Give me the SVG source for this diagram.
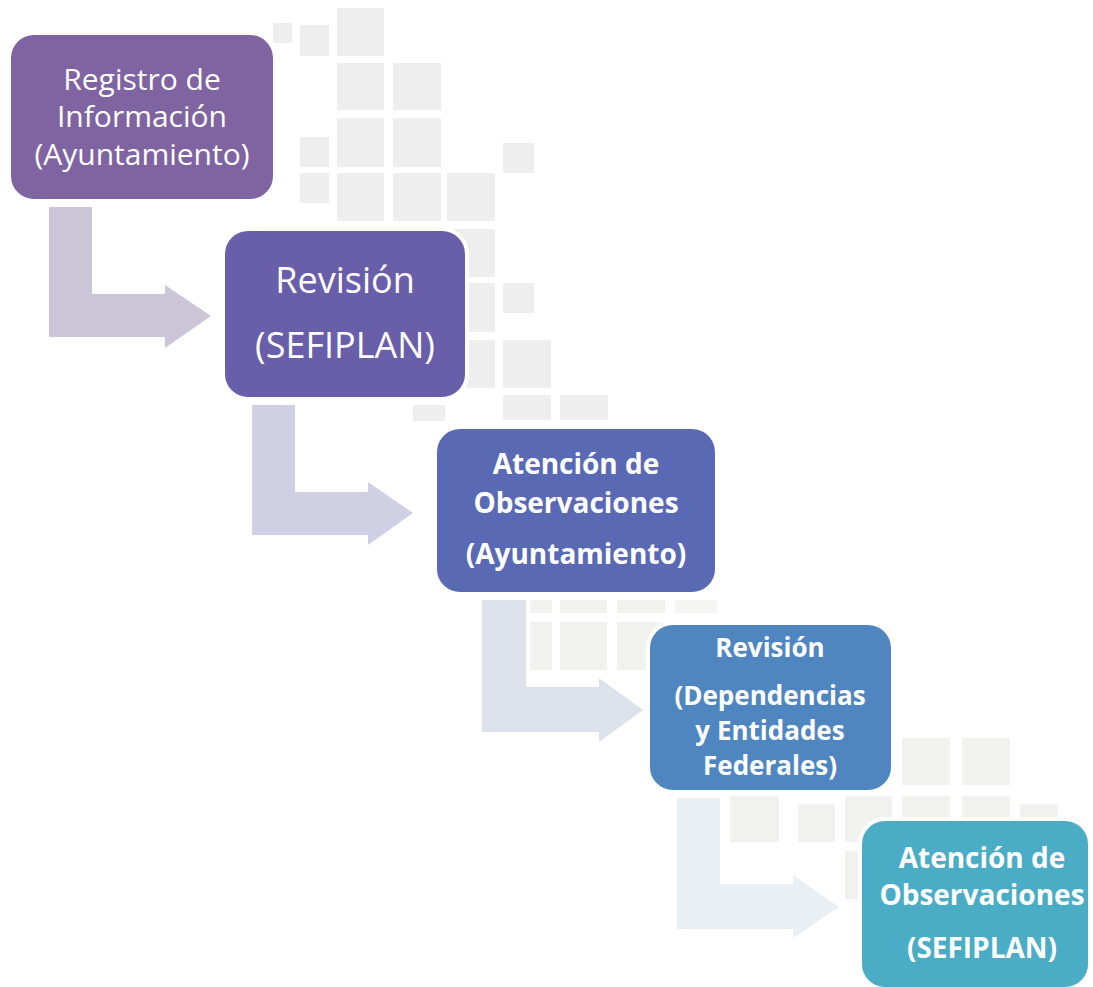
<svg xmlns="http://www.w3.org/2000/svg" width="1093" height="987" viewBox="0 0 1093 987">
<style>
.sq{fill:#eeeeee}
.sq2{fill:#f1f1ed}
.box{stroke:#ffffff;stroke-width:4}
.t{font-family:"Open Sans","Liberation Sans",sans-serif;fill:#ffffff;text-anchor:middle}
.b{font-weight:bold}
</style>
<rect width="1093" height="987" fill="#ffffff"/>
<g id="background">
<rect class="sq" x="273" y="23" width="19" height="20"/>
<rect class="sq" x="300" y="25" width="29" height="31"/>
<rect class="sq" x="337" y="8" width="47" height="48"/>
<rect class="sq" x="337" y="63" width="47" height="47"/>
<rect class="sq" x="393" y="63" width="48" height="47"/>
<rect class="sq" x="300" y="137" width="29" height="30"/>
<rect class="sq" x="337" y="118" width="47" height="49"/>
<rect class="sq" x="393" y="118" width="48" height="49"/>
<rect class="sq" x="503" y="143" width="31" height="30"/>
<rect class="sq" x="300" y="173" width="29" height="30"/>
<rect class="sq" x="337" y="173" width="47" height="48"/>
<rect class="sq" x="393" y="173" width="48" height="48"/>
<rect class="sq" x="447" y="173" width="48" height="48"/>
<rect class="sq" x="447" y="229" width="48" height="48"/>
<rect class="sq" x="447" y="283" width="48" height="49"/>
<rect class="sq" x="503" y="283" width="31" height="30"/>
<rect class="sq" x="447" y="340" width="48" height="48"/>
<rect class="sq" x="503" y="340" width="48" height="48"/>
<rect class="sq" x="413" y="405" width="32" height="16"/>
<rect class="sq" x="503" y="395" width="48" height="25"/>
<rect class="sq" x="560" y="395" width="48" height="25"/>
<rect class="sq2" x="530" y="600" width="22" height="13"/>
<rect class="sq2" x="560" y="600" width="47" height="13"/>
<rect class="sq2" x="617" y="600" width="48" height="13"/>
<rect class="sq2" x="675" y="600" width="42" height="13" opacity="0.7"/>
<rect class="sq2" x="530" y="622" width="22" height="48"/>
<rect class="sq2" x="560" y="622" width="47" height="48"/>
<rect class="sq2" x="617" y="622" width="48" height="48"/>
<rect class="sq2" x="902" y="738" width="48" height="47"/>
<rect class="sq2" x="962" y="738" width="48" height="47"/>
<rect class="sq2" x="730" y="796" width="49" height="46"/>
<rect class="sq2" x="798" y="804" width="37" height="38"/>
<rect class="sq2" x="845" y="796" width="47" height="46"/>
<rect class="sq2" x="902" y="796" width="48" height="46"/>
<rect class="sq2" x="962" y="796" width="48" height="46"/>
<rect class="sq2" x="1020" y="804" width="38" height="38"/>
<rect class="sq2" x="845" y="851" width="47" height="48"/>
</g>
<g id="connectors">
<path d="M49,207 L92,207 L92,294 L165,294 L165,285 L211,316 L165,348 L165,337 L49,337 Z" fill="#cbc5d8"/>
<path d="M252,405 L295,405 L295,492 L368,492 L368,482 L413,513 L368,545 L368,535 L252,535 Z" fill="#d0cfe4"/>
<path d="M482,600 L526,600 L526,687 L599,687 L599,678 L643,710 L599,742 L599,732 L482,732 Z" fill="#dce1ec"/>
<path d="M677,798 L720,798 L720,884 L793,884 L793,875 L839,907 L793,938 L793,929 L677,929 Z" fill="#e9eff3"/>
</g>
<g id="node1">
<rect class="box" x="9" y="33" width="266" height="168" rx="25" fill="#8064a2"/>
<text class="t" font-size="30" x="142" y="90">Registro de</text>
<text class="t" font-size="30" x="142" y="127">Información</text>
<text class="t" font-size="30" x="142" y="165">(Ayuntamiento)</text>
</g>
<g id="node2">
<rect class="box" x="223" y="229" width="244" height="170" rx="25" fill="#695eaa"/>
<text class="t" font-size="36" x="345" y="293">Revisión</text>
<text class="t" font-size="36" x="345" y="358">(SEFIPLAN)</text>
</g>
<g id="node3">
<rect class="box" x="435" y="427" width="282" height="167" rx="25" fill="#5a69b4"/>
<text class="t b" font-size="28" x="576" y="474">Atención de</text>
<text class="t b" font-size="28" x="576" y="513">Observaciones</text>
<text class="t b" font-size="28" x="576" y="564">(Ayuntamiento)</text>
</g>
<g id="node4">
<rect class="box" x="648" y="623" width="245" height="169" rx="25" fill="#4f86bf"/>
<text class="t b" font-size="26" x="770" y="657">Revisión</text>
<text class="t b" font-size="26" x="770" y="705">(Dependencias</text>
<text class="t b" font-size="26" x="770" y="740">y Entidades</text>
<text class="t b" font-size="26" x="770" y="775">Federales)</text>
</g>
<g id="node5">
<rect class="box" x="860" y="819" width="230" height="170" rx="25" fill="#4bacc6"/>
<text class="t b" font-size="28" x="982" y="868">Atención de</text>
<text class="t b" font-size="28" x="982" y="905">Observaciones</text>
<text class="t b" font-size="28" x="982" y="958">(SEFIPLAN)</text>
</g>
</svg>
